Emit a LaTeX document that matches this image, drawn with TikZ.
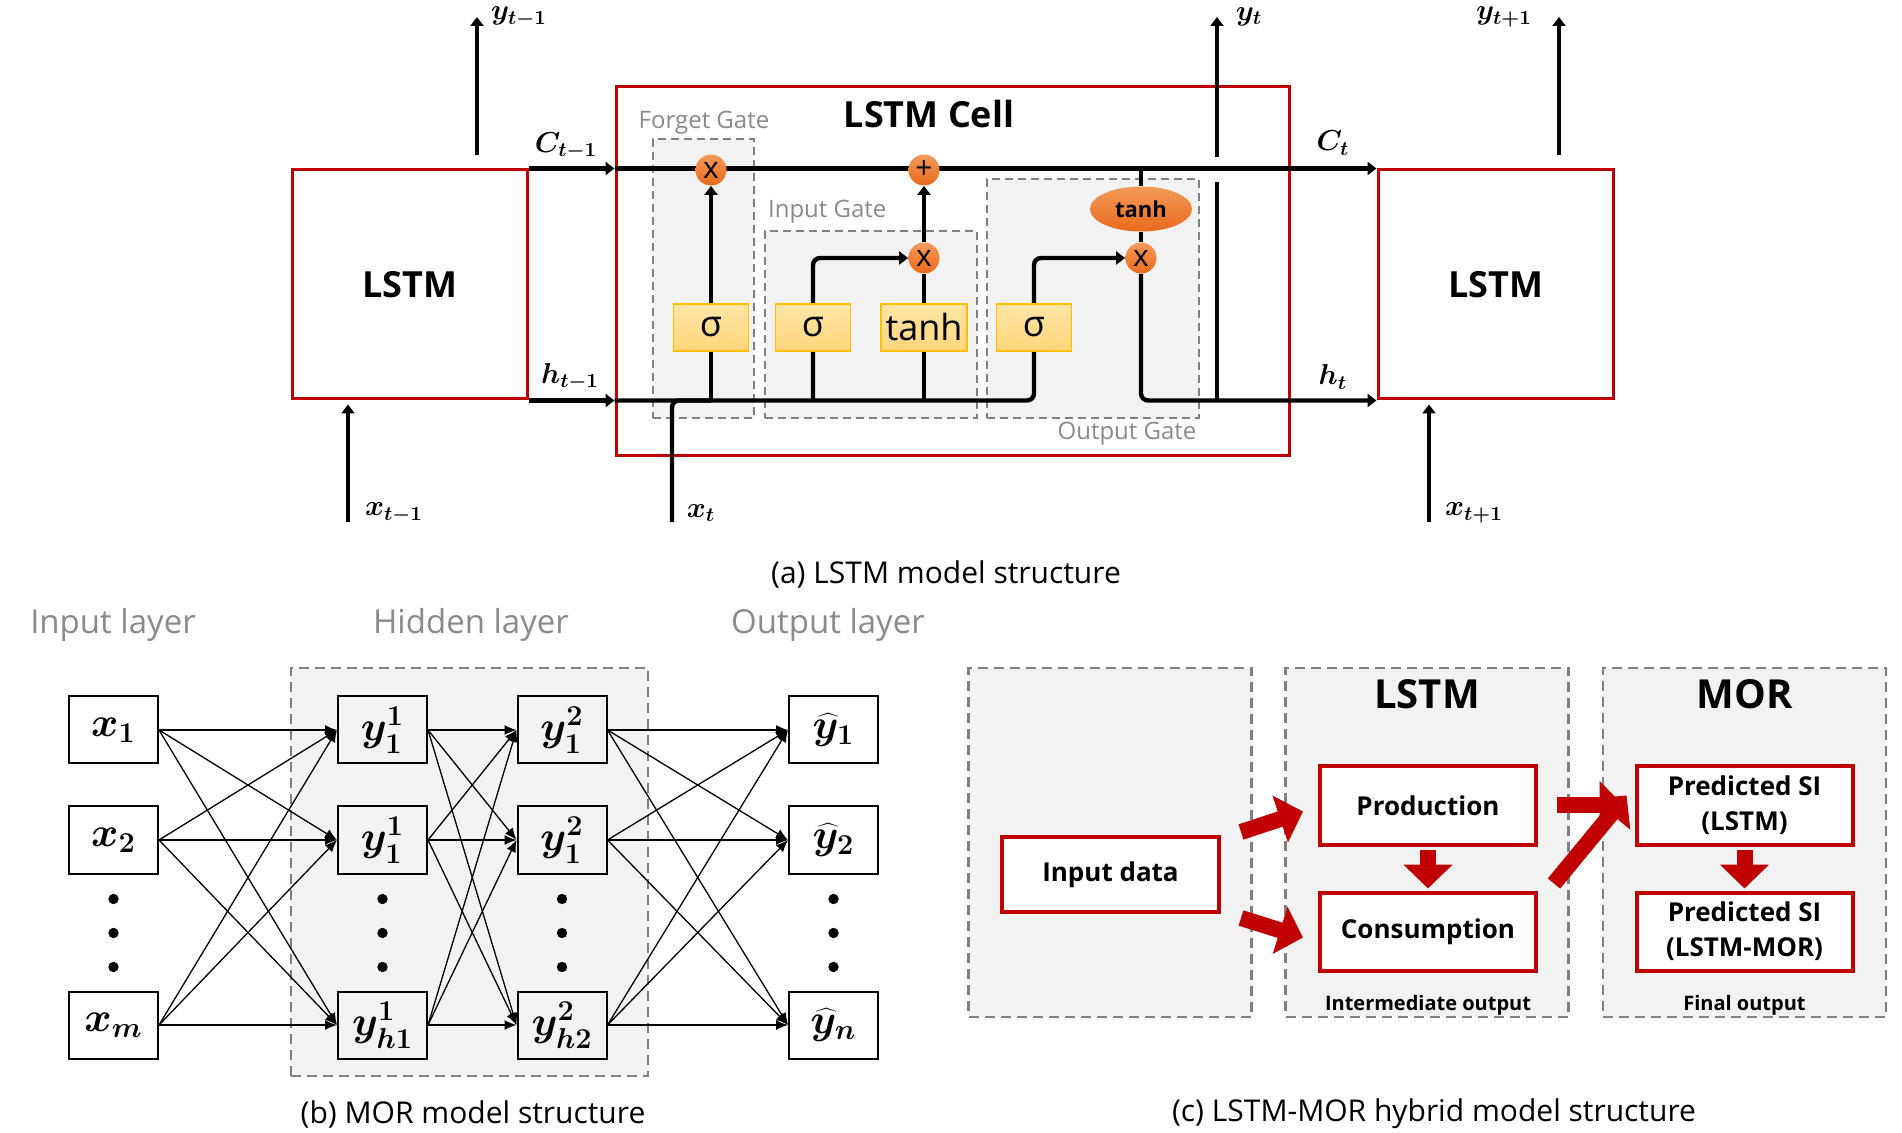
\documentclass[tikz,border=0pt]{standalone}
\usepackage{fontspec}
\setmainfont{Open Sans}
\usetikzlibrary{arrows.meta,shapes.geometric,calc}
\pgfdeclarelayer{back}
\pgfdeclarelayer{wires}
\pgfsetlayers{back,wires,main}
\newdimen\pxu
\pxu=0.5pt
\definecolor{cellred}{HTML}{C00000}
\definecolor{boxgray}{HTML}{F2F2F2}
\definecolor{dashgray}{HTML}{808080}
\definecolor{labgray}{HTML}{8A8A8A}
\definecolor{acttop}{HTML}{FFE6A8}
\definecolor{actbot}{HTML}{FFD57A}
\definecolor{actedge}{HTML}{FFC000}
\definecolor{optop}{HTML}{F49A5A}
\definecolor{opbot}{HTML}{E86A1C}
\begin{document}
\begin{tikzpicture}[x=0.5pt, y=-0.5pt,
  lstm/.style={draw=cellred, line width=1.5pt, fill=white, minimum width=235\pxu,
               minimum height=229\pxu, font=\fontsize{18}{22}\selectfont\bfseries},
  gate/.style={draw=dashgray, fill=boxgray, line width=0.9pt, dash pattern=on 4pt off 2.5pt},
  gatelbl/.style={text=labgray, font=\fontsize{12}{14}\selectfont},
  act/.style={draw=actedge, line width=0.6pt, top color=acttop, bottom color=actbot,
              minimum width=75\pxu, minimum height=47\pxu, inner sep=0pt,
              font=\fontsize{18}{20}\selectfont},
  opc/.style={circle, top color=optop, bottom color=opbot, minimum size=31\pxu,
              inner sep=0pt, font=\fontsize{15}{16}\selectfont},
  flow/.style={draw=black, line width=2.2pt},
  flowtip/.style={-{Triangle[width=6.5pt,length=4.5pt]}},
  mlbl/.style={font=\fontsize{14.4}{16}\selectfont\boldmath},
  layerlbl/.style={text=labgray, font=\fontsize{16.5}{18}\selectfont},
  netunit/.style={draw=black, line width=1pt, fill=white, minimum width=89\pxu,
                  minimum height=67\pxu, inner sep=0pt, font=\fontsize{20.74}{22}\selectfont\boldmath},
  link/.style={line width=0.65pt, -{Latex[length=6pt,width=5pt]}},
  stage/.style={draw=dashgray, fill=boxgray, line width=1.1pt, dash pattern=on 5pt off 3pt,
                minimum width=283\pxu, minimum height=349\pxu},
  task/.style={draw=cellred, line width=2pt, fill=white, minimum width=216\pxu,
               minimum height=78\pxu, align=center, font=\fontsize{13}{17.5}\selectfont\bfseries},
  bigarr/.style={draw=cellred, line width=8pt, -{Triangle[width=24pt,length=12pt]}},
  capt/.style={font=\fontsize{15}{18}\selectfont}
]
\useasboundingbox (0,0) rectangle (1902,1133);

\begin{pgfonlayer}{back}
\node[draw=cellred, line width=1.5pt, minimum width=673\pxu, minimum height=369\pxu] (cell) at (952.5,271.5) {};
\node[gate, minimum width=101\pxu, minimum height=279\pxu] (fgate) at (703.5,278.5) {};
\node[gate, minimum width=212\pxu, minimum height=187\pxu] (igate) at (871,324.5) {};
\node[gate, minimum width=212\pxu, minimum height=239\pxu] (ogate) at (1093,298.5) {};
\node[gate, line width=1.1pt, dash pattern=on 5pt off 3pt, minimum width=357\pxu, minimum height=408\pxu] (hidden) at (469.5,872) {};
\node[stage] (s0) at (1110,842.5) {};
\node[stage] (s1) at (1427,842.5) {};
\node[stage] (s2) at (1744.5,842.5) {};
\end{pgfonlayer}

\node[lstm] (lstmL) at (409.5,284.5) {LSTM};
\node[lstm] (lstmR) at (1495.5,284.5) {LSTM};
\node[font=\fontsize{18}{22}\selectfont\bfseries] (cellttl) at (929,114) {LSTM Cell};
\node[gatelbl] (flbl) at (704,123) {Forget Gate};
\node[gatelbl, anchor=west] (ilbl) at (761,212) {Input Gate};
\node[gatelbl] (olbl) at (1127,434) {Output Gate};

\node[act] (fsig) at (711,327.5) {σ};
\node[act] (isig) at (813,327.5) {σ};
\node[act, minimum width=86\pxu] (tbox) at (924,327.5) {tanh};
\node[act] (osig) at (1034,327.5) {σ};
\node[opc] (fx) at (711,170) {x};
\node[opc] (plus) at (924,170) {+};
\node[opc] (ix) at (924,258) {x};
\node[opc] (ox) at (1141,258) {x};
\node[ellipse, top color=optop, bottom color=opbot, minimum width=102\pxu, minimum height=45\pxu,
      inner sep=0pt, font=\fontsize{11}{13}\selectfont\bfseries] (oth) at (1141,209) {tanh};

\node[mlbl] (lCm) at (566,146) {$C_{t-1}$};
\node[mlbl] (lhm) at (570,377) {$h_{t-1}$};
\node[mlbl] (lC) at (1333,143) {$C_{t}$};
\node[mlbl] (lh) at (1333,377) {$h_{t}$};
\node[mlbl] (lym) at (519,17) {$y_{t-1}$};
\node[mlbl] (ly) at (1249,17) {$y_{t}$};
\node[mlbl] (lyp) at (1504,17) {$y_{t+1}$};
\node[mlbl] (lxm) at (394,513) {$x_{t-1}$};
\node[mlbl] (lx) at (701,513) {$x_{t}$};
\node[mlbl] (lxp) at (1474,513) {$x_{t+1}$};

\coordinate (ymbot) at (477,155);
\coordinate (ymtop) at (477,17);
\coordinate (ypbot) at (1559,155);
\coordinate (yptop) at (1559,17);
\coordinate (ylow) at (1217,182);
\coordinate (yhigh) at (1217,157);
\coordinate (ytop) at (1217,17);
\coordinate (xmbot) at (348,522);
\coordinate (xbot) at (672,522);
\coordinate (xpbot) at (1429,522);

\begin{pgfonlayer}{wires}
\draw[flow,flowtip] (lstmL.north east) -- (cell.west |- lstmL.north east);
\draw[flow,flowtip] (cell.west |- lstmL.north east) -- (lstmR.north west);
\draw[flow,flowtip] (lstmL.south east) -- (cell.west |- lstmL.south east);
\draw[flow,flowtip,rounded corners=7\pxu] (cell.west |- lstmL.south east) -| (osig.center |- ox.west) -- (ox.west);
\draw[flow,rounded corners=7\pxu] (xbot) |- (fsig.center |- lstmL.south);
\draw[flow,flowtip] (fsig.center |- lstmL.south) -- (fx.south);
\draw[flow,flowtip,rounded corners=7\pxu] (isig.center |- lstmL.south) |- (ix.west);
\draw[flow] (tbox.center |- lstmL.south) -- (ix.south);
\draw[flow,flowtip] (ix.north) -- (plus.south);
\draw[flow] (oth.north) -- (oth.north |- lstmL.north);
\draw[flow] (oth.south) -- (ox.north);
\draw[flow,flowtip,rounded corners=7\pxu] (ox.south) |- (lstmR.south west);
\draw[flow] (ylow |- lstmR.south) -- (ylow);
\draw[flow,flowtip] (yhigh) -- (ytop);
\draw[flow,flowtip] (ymbot) -- (ymtop);
\draw[flow,flowtip] (ypbot) -- (yptop);
\draw[flow,flowtip,shorten >=2pt] (xmbot) -- (xmbot |- lstmL.south);
\draw[flow,flowtip,shorten >=2pt] (xpbot) -- (xpbot |- lstmR.south);
\end{pgfonlayer}

\node[capt] (capa) at (946,574) {(a) LSTM model structure};

\node[layerlbl] (linput) at (113,625) {Input layer};
\node[layerlbl] (lhidden) at (471,625) {Hidden layer};
\node[layerlbl] (loutput) at (828,625) {Output layer};

\node[netunit] (in1) at (113.5,730) {$x_1$};
\node[netunit] (in2) at (113.5,840) {$x_2$};
\node[netunit] (in3) at (113.5,1025) {$x_m$};
\node[netunit, fill=boxgray] (ha1) at (382.5,730) {$y^1_1$};
\node[netunit, fill=boxgray] (ha2) at (382.5,840) {$y^1_1$};
\node[netunit, fill=boxgray] (ha3) at (382.5,1025) {$y^1_{h1}$};
\node[netunit, fill=boxgray] (hb1) at (562,730) {$y^2_1$};
\node[netunit, fill=boxgray] (hb2) at (562,840) {$y^2_1$};
\node[netunit, fill=boxgray] (hb3) at (562,1025) {$y^2_{h2}$};
\node[netunit] (out1) at (833.5,730) {$\widehat{y}_1$};
\node[netunit] (out2) at (833.5,840) {$\widehat{y}_2$};
\node[netunit] (out3) at (833.5,1025) {$\widehat{y}_n$};

\foreach \cx in {113.5,382.5,562,833.5}
  \foreach \cy in {899,933,967}
    \fill (\cx,\cy) circle (2.6pt);

\foreach \a in {1,2,3}
  \foreach \b in {1,2,3} {
    \draw[link] (in\a.east) -- (ha\b.west);
    \draw[link] (ha\a.east) -- (hb\b.west);
    \draw[link] (hb\a.east) -- (out\b.west);
  }

\node[capt] (capb) at (473,1114) {(b) MOR model structure};

\node[font=\fontsize{20}{24}\selectfont\bfseries] (t1) at (1427,694) {LSTM};
\node[font=\fontsize{20}{24}\selectfont\bfseries] (t2) at (1744.5,694) {MOR};
\node[task, minimum width=217\pxu, minimum height=75\pxu] (inp) at (1110.5,874.5) {Input data};
\node[task] (prod) at (1428,805.5) {Production};
\node[task] (cons) at (1428,931.5) {Consumption};
\node[task] (p1) at (1744.5,805.5) {Predicted SI\\(LSTM)};
\node[task] (p2) at (1744.5,931.5) {Predicted SI\\(LSTM-MOR)};
\node[font=\fontsize{10}{12}\selectfont\bfseries] (imo) at (1428,1005) {Intermediate output};
\node[font=\fontsize{10}{12}\selectfont\bfseries] (fno) at (1744.5,1005) {Final output};

\draw[bigarr] ($(inp.north east)+(20,-3)$) -- ($(prod.west)+(-15,6)$);
\draw[bigarr] ($(inp.south east)+(20,4)$) -- ($(cons.west)+(-15,6)$);
\draw[bigarr] ($(prod.south)+(0,3)$) -- ($(cons.north)+(0,-2)$);
\draw[bigarr] ($(p1.south)+(0,3)$) -- ($(p2.north)+(0,-2)$);
\draw[bigarr] ($(prod.east)+(19,0)$) -- ($(p1.west)+(-11,0)$);
\draw[bigarr] ($(cons.north east)+(16,-7)$) -- ($(p1.west)+(-8,-10)$);

\node[capt] (capc) at (1434,1114) {(c) LSTM-MOR hybrid model structure};
\end{tikzpicture}
\end{document}
